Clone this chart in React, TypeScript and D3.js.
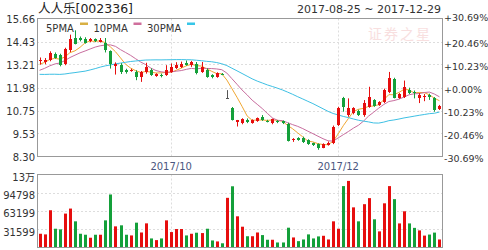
import React from "react";
import * as d3 from "d3";

const title = "人人乐[002336]";
const dateRange = "2017-08-25 ~ 2017-12-29";
const watermark = "证券之星";

const opens = [13.38,13.36,13.43,13.79,13.70,13.22,13.96,14.62,14.62,14.58,14.44,14.55,14.41,14.37,13.91,13.13,13.20,12.90,12.85,12.81,12.55,12.82,12.93,12.60,12.67,12.64,12.81,13.02,13.08,13.31,13.17,13.26,12.81,12.94,12.64,12.55,12.72,11.41,10.88,10.12,10.10,10.26,10.10,10.19,10.42,10.21,10.07,10.19,10.19,10.05,9.20,9.28,9.31,9.19,9.00,8.96,8.78,8.92,9.01,9.98,11.40,10.51,10.60,10.75,10.51,10.95,11.31,11.04,11.22,11.73,12.45,11.42,11.48,11.87,11.75,11.43,11.47,11.58,11.40,10.82];
const closes = [13.47,13.44,13.82,13.56,13.17,14.05,14.58,14.32,14.49,14.37,14.55,14.45,14.51,13.96,13.26,13.26,12.81,12.81,12.94,12.55,12.81,13.06,12.66,12.69,12.58,12.94,13.08,13.20,13.26,13.20,13.34,12.73,13.08,12.55,12.52,12.73,12.68,11.41,10.27,10.22,10.30,10.12,10.25,10.33,10.25,10.16,10.28,10.13,10.07,9.15,9.26,9.19,9.06,8.96,8.93,8.78,8.96,9.01,9.90,10.89,10.95,10.87,10.87,10.51,11.13,11.48,10.99,11.20,11.84,12.49,11.44,11.63,12.00,11.71,11.67,11.58,11.55,11.46,10.78,11.00];
const highs = [13.58,13.55,13.91,13.85,13.78,14.10,14.80,15.03,14.70,14.66,14.62,14.60,14.62,14.62,13.96,13.32,13.28,12.98,12.98,12.90,12.86,13.30,13.00,12.74,12.72,13.17,13.26,13.33,13.36,13.42,13.40,13.34,13.34,13.00,12.69,12.79,12.75,11.84,10.94,10.25,10.34,10.33,10.28,10.38,10.51,10.26,10.32,10.24,10.22,10.10,9.28,9.33,9.36,9.22,9.04,9.00,9.00,9.10,9.95,10.95,11.48,11.40,10.93,10.80,11.31,12.02,11.36,11.25,11.92,12.81,12.50,11.68,12.35,11.97,11.82,11.68,11.63,11.65,11.47,11.05];
const lows = [13.20,13.22,13.38,13.52,13.11,13.17,13.87,14.28,14.44,14.32,14.40,14.40,14.38,13.85,12.99,12.67,12.70,12.72,12.82,12.37,12.28,12.72,12.60,12.55,12.52,12.60,12.76,12.97,13.02,13.14,13.08,12.68,12.76,12.50,12.47,12.50,12.64,11.41,10.22,9.90,10.02,10.08,10.05,10.15,10.20,10.12,10.02,10.08,10.03,9.10,9.08,9.14,9.02,8.92,8.86,8.66,8.74,8.88,8.96,9.93,10.69,10.42,10.55,10.46,10.42,10.90,10.95,11.00,11.15,11.68,11.40,11.38,11.42,11.63,11.40,11.15,11.25,11.32,10.69,10.78];
const volumes = [23800,22700,64500,32500,31400,58700,67400,45300,23800,22100,16900,22100,22100,47000,91800,36600,38400,22100,20900,43000,26000,41800,15700,12800,15700,47000,26700,32000,32000,20900,23800,25600,25000,32500,12200,10500,7300,86000,106000,54000,36000,19500,19500,26000,21500,13400,13400,8700,8700,34300,17400,11000,13900,22700,15700,19200,20300,13900,45300,32500,106300,115300,69500,45300,75000,85500,48800,27900,76500,106300,83700,41700,62700,41700,34000,29600,20600,22400,25800,13900];
// closes of the 29 sessions before the window (moving-average warm-up)
const priorCloses = [13.60,13.55,13.50,13.45,13.40,13.35,13.30,13.30,13.25,12.60,12.35,12.10,11.95,11.80,11.60,11.50,11.55,11.65,11.75,11.95,12.40,12.50,12.55,12.65,12.77,12.95,13.05,13.25,13.38];

const priceTicks = [8.30, 9.53, 10.75, 11.98, 13.21, 14.43, 15.66];
const pctLabels = ["-30.69%", "-20.46%", "-10.23%", "+0.00%", "+10.23%", "+20.46%", "+30.69%"];
const volTicks = [31599, 63199, 94798, 126397];
const volTickLabels = ["31599", "63199", "94798", "13万"];
const monthTickIdx = [26, 59];
const monthTickLabels = ["2017/10", "2017/12"];
const maPeriods = [5, 10, 30];
const maNames = ["5PMA", "10PMA", "30PMA"];

const maColors = ["#f0a733", "#c86d9e", "#3ec0e4"];
const swatchColors = ["#d8b043", "#cf6f9c", "#36c6e8"];
const RED = "#e60e0e";
const GREEN = "#14a03a";
const FONT = "'DejaVu Sans', 'Noto Sans CJK SC', sans-serif";

export default function App() {
  const L = 37, R = 442;
  const mTop = 18.5, mBot = 156.5, vTop = 174.5, vBot = 247.5;
  const n = closes.length;
  const x = d3.scaleBand<number>().domain(d3.range(n)).range([L, R]).padding(0);
  const cx = (i: number) => (x(i) as number) + x.bandwidth() / 2;
  const y = d3.scaleLinear().domain([priceTicks[0], priceTicks[priceTicks.length - 1]]).range([mBot, mTop]);
  const yv = d3.scaleLinear().domain([0, volTicks[volTicks.length - 1]]).range([vBot, vTop]);

  const all = priorCloses.concat(closes);
  const off = priorCloses.length;
  const mas = maPeriods.map((p) => closes.map((_, i) => d3.mean(all.slice(i + off - p + 1, i + off + 1)) as number));
  const line = d3.line<number>().x((_, i) => cx(i)).y((v) => y(v));

  const bw = 3;
  const snap = (v: number) => Math.round(v) + 0.5;

  return (
    <svg width={488} height={250} style={{ position: "absolute", left: 0, top: 0, background: "#fff" }} fontFamily={FONT}>
      {/* title & date */}
      <text x={38} y={13} fontSize={12.5} fill="#222">{title}</text>
      <text x={441} y={12.5} fontSize={11} fill="#333" textAnchor="end">{dateRange}</text>
      <text x={368} y={39} fontSize={14} fill="#f6d2d2" opacity={0.7} letterSpacing={2}>{watermark}</text>

      {/* main grid */}
      {priceTicks.slice(1, -1).map((t) => (
        <line key={"g" + t} x1={L} x2={R} y1={snap(y(t))} y2={snap(y(t))} stroke="#ddd" strokeDasharray="2,2" />
      ))}
      {monthTickIdx.map((i) => (
        <g key={"vg" + i}>
          <line x1={snap(cx(i))} x2={snap(cx(i))} y1={mTop} y2={mBot} stroke="#ddd" strokeDasharray="2,2" />
          <line x1={snap(cx(i))} x2={snap(cx(i))} y1={vTop} y2={vBot} stroke="#ddd" strokeDasharray="2,2" />
        </g>
      ))}
      {volTicks.slice(0, -1).map((t) => (
        <line key={"vg" + t} x1={L} x2={R} y1={snap(yv(t))} y2={snap(yv(t))} stroke="#ddd" strokeDasharray="2,2" />
      ))}

      {/* MA lines */}
      {mas.map((m, k) => (
        <path key={"ma" + k} d={line(m) as string} fill="none" stroke={maColors[k]} strokeWidth={1} />
      ))}

      {/* candles */}
      {closes.map((c, i) => {
        const o = opens[i];
        const col = c > o ? RED : c < o ? GREEN : "#555";
        const xc = Math.round(cx(i));
        const top = Math.round(y(Math.max(o, c)));
        const bot = Math.round(y(Math.min(o, c)));
        return (
          <g key={"c" + i}>
            <rect x={xc} y={y(highs[i])} width={1} height={Math.max(1, y(lows[i]) - y(highs[i]))} fill={col} />
            <rect x={xc - 1} y={top} width={bw} height={Math.max(1, bot - top)} fill={col} />
          </g>
        );
      })}

      {/* volume bars */}
      {volumes.map((v, i) => {
        const col = closes[i] >= opens[i] ? RED : GREEN;
        const xc = Math.round(cx(i));
        return <rect key={"v" + i} x={xc - 1} y={yv(v)} width={bw} height={vBot - 0.5 - yv(v)} fill={col} />;
      })}

      {/* frames */}
      <rect x={L + 0.5} y={mTop} width={R - L} height={mBot - mTop} fill="none" stroke="#999" />
      <rect x={L + 0.5} y={vTop} width={R - L} height={vBot - vTop} fill="none" stroke="#999" />

      {/* legend */}
      {maNames.map((nm, k) => {
        const lx = [46, 93.5, 147][k];
        return (
          <g key={"lg" + k}>
            <text x={lx} y={31.5} fontSize={10} fill="#333">{nm}</text>
            <rect x={[80, 133.5, 187][k]} y={22.5} width={8} height={2.5} fill={swatchColors[k]} />
          </g>
        );
      })}

      {/* left price labels */}
      {priceTicks.map((t) => (
        <text key={"pl" + t} x={35} y={y(t) + 1} dy="0.35em" fontSize={10} fill="#333" textAnchor="end">{t.toFixed(2)}</text>
      ))}
      {/* right pct labels */}
      {pctLabels.map((s, i) => (
        <text key={"pr" + s} x={444} y={y(priceTicks[i]) + (i === pctLabels.length - 1 ? -1 : 2.5)} dy="0.35em" fontSize={9.5} fill="#333">{s}</text>
      ))}
      {/* volume labels */}
      {volTicks.map((t, i) => (
        <text key={"vl" + t} x={35} y={yv(t) + 3} dy="0.35em" fontSize={10} fill="#333" textAnchor="end">{volTickLabels[i]}</text>
      ))}
      {/* month labels */}
      {monthTickIdx.map((idx, i) => (
        <text key={"ml" + idx} x={cx(idx)} y={166.5} dy="0.35em" fontSize={10} fill="#4a5780" textAnchor="middle">{monthTickLabels[i]}</text>
      ))}
    </svg>
  );
}
